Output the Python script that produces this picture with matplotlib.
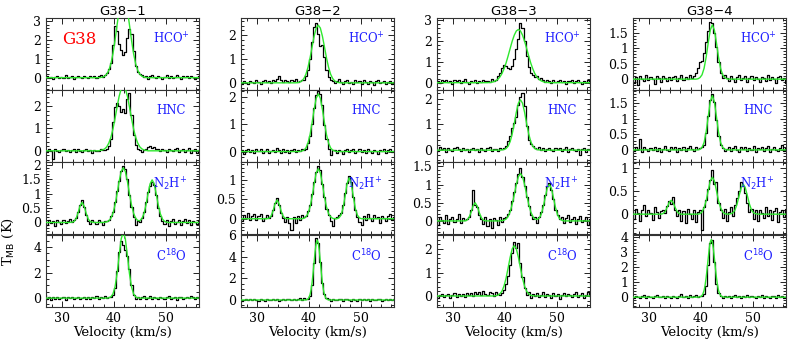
import numpy as np
import matplotlib
matplotlib.use("Agg")
import matplotlib.pyplot as plt
from matplotlib.ticker import MultipleLocator, FuncFormatter

# ---------------- data ----------------
velocity_start = 26.6   # km/s, first channel
velocity_step = 0.4     # km/s, channel width
n_channels = 76

sources = ["G38\u22121", "G38\u22122", "G38\u22123", "G38\u22124"]
line_names = ["HCO$^{+}$", "HNC", "N$_{2}$H$^{+}$", "C$^{18}$O"]

# observed spectra (T_MB, K), one value per channel
g38_1_hcop = [-0.05, 0.08, -0.02, 0.04, -0.08, 0.03, 0.10, -0.04, 0.06, 0.00,
              0.12, -0.03, 0.05, 0.09, -0.06, 0.02, 0.11, 0.04, -0.02, 0.07,
              0.06, -0.02, 0.09, 0.03, 0.11, -0.01, 0.07, 0.13, 0.05, 0.15,
              0.25, 0.45, 0.80, 1.70, 2.75, 2.45, 1.80, 1.45, 1.20, 1.35,
              2.10, 2.55, 2.30, 1.40, 0.60, 0.30, 0.18,
              0.12, 0.04, 0.09, -0.05, 0.07, 0.14, 0.02, -0.03, 0.10, 0.06, -0.08, 0.05, 0.12, 0.00,
              0.08, -0.04, 0.06, 0.13, 0.03, -0.06, 0.09, 0.02, 0.11, -0.03, 0.07, 0.01, -0.07, 0.05, 0.10]
g38_1_hnc = [0.03, -0.05, 0.06, -0.02, -0.35, 0.08, 0.01, -0.06, 0.04, 0.07,
             -0.03, 0.05, -0.07, 0.02, 0.06, -0.04, 0.09, 0.00, -0.05, 0.03,
             0.07, -0.02, 0.04, -0.08, 0.05, 0.01, -0.03, 0.06, 0.02, 0.04, 0.08,
             0.20, 0.55, 1.30, 1.95, 2.15, 2.00, 1.75, 1.85, 1.70, 2.30, 2.60, 1.60, 0.70, 0.25, 0.10,
             0.05, -0.04, 0.03, 0.08, 0.15, 0.22, 0.12, 0.18, 0.06, 0.10, -0.03, 0.07, 0.02, -0.05, 0.09,
             0.04, -0.02, 0.06, 0.11, -0.06, 0.03, 0.08, -0.04, 0.05, 0.13, -0.08, 0.02, 0.07, -0.10, 0.04]
g38_1_n2hp = [0.02, -0.08, 0.10, -0.03, 0.05, -0.12, 0.07, 0.01, -0.06, 0.09,
              -0.02, 0.04, 0.12,
              0.00, 0.08, 0.15, 0.38, 0.62, 0.78, 0.55, 0.25, 0.05, -0.06, 0.08,
              0.03, -0.05, 0.10, 0.02, -0.09, 0.06, 0.04,
              0.10, 0.22, 0.35, 0.70, 1.10, 1.45, 1.80, 1.95, 1.85, 1.50, 0.95, 0.55, 0.20,
              -0.10, 0.05, 0.02, 0.15,
              0.35, 0.70, 1.05, 1.25, 1.42, 1.30, 0.95, 0.50, 0.22, 0.05, -0.04, 0.08,
              -0.12, 0.06, 0.11, -0.05, 0.03, 0.09, -0.08, 0.04, 0.13, -0.02, 0.07, -0.10, 0.05, 0.01, -0.06, 0.08]
g38_1_c18o = [0.25, -0.10, 0.05, -0.15, 0.08, -0.05, 0.12, -0.08, 0.02, 0.10,
              -0.12, 0.06, -0.03, 0.09, -0.07, 0.04, 0.11, -0.09, 0.03, 0.07,
              -0.04, 0.10, -0.11, 0.05, 0.01, 0.13, -0.06, 0.08, 0.00, 0.15, -0.03, 0.09, 0.05,
              0.25, 0.80, 2.10, 3.60, 4.45, 4.20, 3.75, 3.30, 2.30, 1.00, 0.25, -0.05,
              0.10, -0.08, 0.06, 0.14, -0.05, 0.03, 0.20, -0.10, 0.07, 0.01, -0.06, 0.12, 0.04, -0.09, 0.08,
              0.15, -0.04, 0.02, 0.10, -0.12, 0.06, 0.11, -0.07, 0.03, 0.09, -0.02, 0.13, 0.05, -0.08, 0.10, 0.04]

g38_2_hcop = [0.02, -0.05, 0.06, 0.01, -0.04, 0.08, 0.03, -0.02, 0.10, 0.05,
              -0.03, 0.07, 0.12, 0.04, 0.09, -0.01, 0.13, 0.06, 0.15, 0.30,
              0.10, 0.05, 0.14, 0.08, 0.02, 0.11, 0.06, 0.16, 0.04, 0.09, 0.12,
              0.10, 0.30, 0.55, 1.00, 1.70, 2.35, 2.50, 2.05, 1.55, 1.60, 1.10, 0.55, 0.25, 0.10,
              0.06, -0.02, 0.09, 0.15, 0.03, -0.06, 0.08, 0.12, 0.01, 0.05, -0.04, 0.10, 0.03, 0.07, -0.05,
              0.11, 0.02, -0.03, 0.08, 0.04, -0.07, 0.06, 0.10, -0.02, 0.05, 0.09, -0.04, 0.03, 0.07, -0.06, 0.02]
g38_2_hnc = [-0.03, 0.06, -0.08, 0.04, 0.10, -0.02, 0.05, -0.06, 0.08, 0.01,
             0.09, -0.04, 0.03, 0.11, -0.07, 0.02, 0.06, -0.03, 0.12, 0.05,
             -0.05, 0.08, 0.00, 0.07, -0.06, 0.04, 0.10, -0.02, 0.06, 0.03, 0.09, 0.05,
             0.10, 0.30, 0.55, 1.00, 1.60, 2.05, 2.20, 2.10, 1.70, 0.95, 0.45, 0.10, -0.12, 0.05,
             0.07, -0.04, 0.05, 0.02, -0.08, 0.06, 0.10, -0.03, 0.04, 0.08, -0.06, 0.03, 0.11, -0.02, 0.05,
             -0.07, 0.09, 0.01, -0.04, 0.07, 0.03, -0.09, 0.06, 0.02, 0.10, -0.05, 0.04, 0.08, -0.03, 0.01]
g38_2_n2hp = [0.05, -0.06, 0.10, 0.02, 0.15, -0.04, 0.08, 0.12, -0.02, 0.06,
              0.11, -0.05, 0.03, 0.09,
              0.02, 0.08, 0.22, 0.40, 0.52, 0.35, 0.15, 0.02, -0.08,
              0.05, -0.12, -0.30, 0.04, -0.10, 0.07, -0.03, 0.10,
              0.05, 0.08, 0.20, 0.35, 0.62, 0.95, 1.20, 1.35, 1.25, 0.90, 0.55, 0.25, 0.10, -0.05, -0.18,
              0.02, 0.05, 0.10, 0.15, 0.35, 0.65, 0.92, 1.08, 0.95, 0.55, 0.22, 0.05, -0.08,
              -0.15, 0.06, -0.04, 0.12, 0.03, -0.07, 0.09, 0.01, 0.05, -0.10, 0.08, 0.02, -0.05, 0.07, 0.11, -0.02, 0.04]
g38_2_c18o = [0.05, -0.08, 0.03, 0.10, -0.04, 0.06, -0.02, 0.08, 0.01, -0.06,
              0.07, 0.02, -0.05, 0.09, 0.04, -0.03, 0.11, 0.00, 0.06, -0.07,
              0.03, 0.08, -0.04, 0.05, 0.12, -0.02, 0.07, 0.01, 0.09, 0.15, 0.04, 0.18, 0.10,
              0.12, 0.35, 1.40, 3.40, 5.70, 5.30, 3.50, 1.60, 0.55, 0.15, 0.05,
              -0.06, 0.08, 0.03, -0.04, 0.10, 0.05, -0.08, 0.06, 0.12, 0.00, -0.05, 0.09, 0.04, -0.10, 0.07,
              0.02, 0.11, -0.03, 0.06, -0.07, 0.08, 0.03, -0.02, 0.10, 0.05, -0.06, 0.04, 0.09, -0.04, 0.07, 0.01, 0.06]

g38_3_hcop = [0.04, 0.10, -0.03, 0.12, 0.06, 0.15, 0.02, 0.09, -0.05, 0.11,
              0.07, 0.13, 0.00, 0.08, 0.16, 0.03, -0.04, 0.10, 0.05, 0.12,
              -0.02, 0.08, 0.04, 0.14, 0.06, 0.10, 0.02, 0.18, 0.09,
              0.15, 0.30, 0.45, 0.70, 0.85, 0.80, 0.72, 0.65, 0.80, 1.15,
              1.60, 2.10, 2.85, 2.60, 2.00, 1.30, 0.75, 0.45, 0.35, 0.25,
              0.30, 0.20, 0.22, 0.12,
              0.05, 0.15, 0.08, -0.02, 0.11, 0.04, 0.09, 0.13, 0.01, 0.07, -0.04, 0.10,
              0.06, 0.12, 0.00, 0.08, 0.14, 0.03, -0.06, 0.09, 0.05, 0.11, -0.02]
g38_3_hnc = [0.06, -0.04, 0.12, 0.03, 0.08, -0.06, 0.10, 0.02, -0.03, 0.07,
             0.11, 0.04, -0.05, 0.09, 0.01, 0.06, -0.08, 0.03, 0.10, 0.00,
             0.05, -0.06, 0.08, 0.02, -0.04, 0.07, 0.11, -0.02, 0.05, 0.03, -0.05, 0.09, 0.04, 0.08,
             0.15, 0.35, 0.55, 0.85, 1.05, 1.30, 1.75, 2.05, 2.20, 1.70, 0.95, 0.40, 0.25, 0.15,
             0.10, 0.05, 0.12, 0.02, 0.08, -0.03, 0.06, 0.10, 0.01, -0.05, 0.07, 0.03, 0.09, -0.02,
             0.05, 0.11, -0.06, 0.04, 0.08, 0.00, -0.04, 0.06, -0.20, 0.03, 0.09, -0.07, 0.05, 0.02]
g38_3_n2hp = [0.08, -0.10, 0.12, 0.02, -0.05, 0.15, -0.08, 0.06, 0.10, -0.03,
              0.05, 0.20, -0.06, 0.09, 0.03,
              0.05, 0.12, 0.30, 0.85, 0.45, 0.38, 0.15, 0.05, -0.08,
              0.10, -0.15, 0.06, -0.20, 0.08, 0.02, -0.12, 0.11, -0.04, 0.07,
              0.10, 0.18, 0.30, 0.55, 0.80, 1.05, 1.30, 1.45, 1.20, 0.95, 0.65, 0.40, 0.15, 0.05, 0.10, -0.05, 0.12,
              0.25, 0.45, 0.70, 0.95, 1.05, 0.85, 0.60, 0.30, 0.15, 0.05, 0.12,
              -0.06, 0.09, 0.15, -0.02, 0.04, 0.11, -0.08, 0.06, 0.13, -0.04, 0.02, 0.10, -0.10, 0.05]
g38_3_c18o = [0.02, -0.08, 0.06, 0.10, -0.05, 0.03, 0.08, -0.10, 0.05, 0.12,
              -0.03, 0.07, 0.01, 0.09, -0.06, 0.11, 0.04, 0.14, 0.02, 0.18,
              0.08, 0.15, 0.03, 0.20, 0.10, 0.06, 0.17, 0.12, -0.02, 0.15, 0.08, 0.05, 0.12,
              0.25, 0.50, 0.85, 1.30, 1.85, 2.30, 2.05, 2.25, 1.40, 0.80, 0.35, 0.05, 0.15,
              -0.10, 0.08, 0.02, 0.12, -0.05, 0.06, 0.15, -0.03, 0.09, 0.04, -0.08, 0.11, 0.01, 0.07, -0.12,
              0.05, 0.13, -0.02, 0.08, 0.03, -0.06, 0.10, 0.16, -0.04, 0.06, 0.12, -0.09, 0.04, 0.18, 0.02]

g38_4_hcop = [0.05, -0.12, 0.08, -0.20, 0.10, 0.02, -0.06, 0.12, -0.03, 0.07,
              0.01, -0.15, 0.09, 0.04, -0.08, 0.11, 0.03, -0.05, 0.08, -0.02,
              0.06, 0.10, -0.07, 0.04, 0.12, -0.03, 0.08, 0.00, 0.14, 0.05, 0.10,
              0.20, 0.35, 0.55, 0.60, 0.85, 1.20, 1.55, 1.85, 1.80, 1.50, 1.05, 0.55, 0.20, 0.05, 0.12,
              0.03, -0.06, 0.09, 0.02, -0.10, 0.07, 0.13, -0.04, 0.05, 0.10, -0.08, 0.04, 0.11, -0.02, 0.06,
              0.01, -0.09, 0.08, 0.03, -0.05, 0.12, -0.03, 0.07, 0.02, -0.11, 0.06, 0.09, -0.04, 0.03, -0.14]
g38_4_hnc = [0.05, -0.04, 0.08, 0.02, 0.35, -0.06, 0.10, 0.03, -0.05, 0.07,
             0.01, 0.09, -0.03, 0.06, -0.08, 0.04, 0.11, 0.00, -0.04, 0.08,
             0.03, 0.10, -0.06, 0.05, 0.01, 0.09, -0.02, 0.07, 0.12, 0.04, -0.03, 0.08, 0.02, 0.06, 0.10,
             0.15, 0.55, 1.10, 1.60, 1.80, 1.55, 0.95, 0.45, 0.15, 0.05,
             -0.05, 0.04, 0.09, -0.02, 0.06, 0.11, 0.01, -0.07, 0.08, 0.03, 0.10, -0.04, 0.05, 0.00, 0.12,
             -0.06, 0.07, 0.02, 0.09, -0.03, 0.05, 0.13, -0.08, 0.04, 0.10, 0.01, -0.05, 0.07, 0.15, -0.02, 0.06]
g38_4_n2hp = [0.05, -0.10, 0.12, 0.03, -0.15, 0.08, 0.20, -0.05, 0.10, 0.02,
              -0.12, 0.15, 0.04, -0.08, 0.06,
              0.10, 0.02, 0.18, 0.28, 0.22, 0.38, 0.10, -0.05, 0.08,
              -0.15, 0.06, -0.20, 0.12, 0.00, -0.10, 0.09, -0.18, 0.04, 0.10, -0.35,
              0.15, 0.30, 0.55, 0.75, 0.95, 0.65, 0.70, 0.25, 0.10, -0.08, 0.12, -0.15,
              0.05, 0.15, -0.05, 0.20, 0.35, 0.50, 0.70, 0.60, 0.45, 0.25, 0.05, 0.12, -0.10, 0.08,
              -0.14, 0.10, 0.03, -0.08, 0.15, -0.05, 0.09, -0.12, 0.06, 0.13, -0.18, 0.04, 0.10, -0.06, 0.12]
g38_4_c18o = [0.03, -0.06, 0.10, 0.02, -0.04, 0.08, 0.15, -0.03, 0.05, 0.01,
              -0.08, 0.06, 0.12, -0.02, 0.04, 0.09, -0.05, 0.07, 0.02, -0.06,
              0.10, 0.04, -0.03, 0.08, 0.18, 0.01, 0.06, -0.04, 0.11, 0.03, 0.07, 0.14, -0.02, 0.09, 0.05,
              0.20, 0.75, 2.10, 3.60, 3.75, 2.30, 0.90, 0.30, 0.08,
              -0.05, 0.06, 0.02, 0.10, -0.03, 0.07, 0.12, 0.00, 0.05, -0.07, 0.09, 0.03, 0.14, -0.02, 0.06,
              0.01, -0.06, 0.08, 0.04, 0.11, -0.04, 0.05, 0.02, -0.08, 0.09, 0.06, -0.03, 0.12, 0.01, 0.07, -0.05, 0.04]

# Gaussian-fit curves (T_MB, K), tabulated from fit_start in steps of fit_step; zero elsewhere
g38_1_hcop_fit = [0.01, 0.03, 0.08, 0.19, 0.39, 0.74, 1.27, 1.98, 2.79, 3.57, 4.14, 4.35,
                  4.14, 3.57, 2.79, 1.98, 1.27, 0.74, 0.39, 0.19, 0.08, 0.03, 0.01]
g38_1_hnc_fit = [0.02, 0.04, 0.09, 0.18, 0.35, 0.61, 0.98, 1.45, 1.96, 2.44, 2.78, 2.90,
                 2.78, 2.44, 1.96, 1.45, 0.98, 0.61, 0.35, 0.18, 0.09, 0.04, 0.02]
g38_1_n2hp_fit = [0.01, 0.03, 0.12, 0.32, 0.57, 0.70, 0.57, 0.32, 0.12, 0.03, 0.01,
                  0.0, 0.0, 0.0, 0.0, 0.0, 0.01, 0.02, 0.06, 0.15, 0.32, 0.61, 1.00, 1.43, 1.77, 1.90,
                  1.77, 1.43, 1.00, 0.61, 0.32, 0.15, 0.07, 0.06, 0.13, 0.30, 0.60, 0.99, 1.34, 1.48,
                  1.34, 0.99, 0.60, 0.30, 0.12, 0.04, 0.01]
g38_1_c18o_fit = [0.02, 0.10, 0.33, 0.88, 1.92, 3.34, 4.65, 5.20, 4.65, 3.34, 1.92, 0.88, 0.33, 0.10, 0.02]

g38_2_hcop_fit = [0.01, 0.03, 0.08, 0.18, 0.36, 0.65, 1.04, 1.51, 1.96, 2.30, 2.42,
                  2.30, 1.96, 1.51, 1.04, 0.65, 0.36, 0.18, 0.08, 0.03, 0.01]
g38_2_hnc_fit = [0.02, 0.05, 0.13, 0.31, 0.61, 1.05, 1.54, 1.94, 2.10, 1.94, 1.54, 1.05, 0.61, 0.31, 0.13, 0.05, 0.02]
g38_2_n2hp_fit = [0.01, 0.06, 0.19, 0.38, 0.48, 0.38, 0.19, 0.06, 0.01,
                  0.0, 0.0, 0.0, 0.0, 0.0, 0.0, 0.0, 0.0,
                  0.01, 0.05, 0.13, 0.30, 0.56, 0.89, 1.17, 1.28, 1.17, 0.89, 0.56, 0.30, 0.13, 0.05, 0.01,
                  0.0, 0.0, 0.02, 0.09, 0.26, 0.57, 0.90, 1.05, 0.90, 0.57, 0.26, 0.09, 0.02]
g38_2_c18o_fit = [0.04, 0.10, 0.24, 0.50, 0.94, 1.62, 2.52, 3.56, 4.56, 5.28, 5.55,
                  5.28, 4.56, 3.56, 2.52, 1.62, 0.94, 0.50, 0.24, 0.10, 0.04]

g38_3_hcop_fit = [0.01, 0.02, 0.05, 0.09, 0.16, 0.27, 0.43, 0.66, 0.94, 1.28, 1.64, 1.99, 2.28, 2.48, 2.55,
                  2.48, 2.28, 1.99, 1.64, 1.28, 0.94, 0.66, 0.43, 0.27, 0.16, 0.09, 0.05, 0.02, 0.01]
g38_3_hnc_fit = [0.01, 0.02, 0.06, 0.15, 0.33, 0.63, 1.03, 1.47, 1.82, 1.95,
                 1.82, 1.47, 1.03, 0.63, 0.33, 0.15, 0.06, 0.02, 0.01]
g38_3_n2hp_fit = [0.02, 0.09, 0.23, 0.41, 0.50, 0.41, 0.23, 0.09, 0.02,
                  0.0, 0.0, 0.0, 0.0, 0.0, 0.0, 0.0, 0.0,
                  0.01, 0.02, 0.05, 0.12, 0.25, 0.46, 0.72, 1.00, 1.22, 1.30,
                  1.22, 1.00, 0.72, 0.46, 0.25, 0.12, 0.05, 0.04, 0.07, 0.17,
                  0.37, 0.64, 0.90, 1.00, 0.90, 0.64, 0.37, 0.17, 0.06, 0.02]
g38_3_c18o_fit = [0.01, 0.03, 0.09, 0.20, 0.42, 0.75, 1.19, 1.65, 2.01, 2.15,
                  2.01, 1.65, 1.19, 0.75, 0.42, 0.20, 0.09, 0.03, 0.01]

g38_4_hcop_fit = [0.01, 0.05, 0.14, 0.35, 0.71, 1.17, 1.58, 1.75, 1.58, 1.17, 0.71, 0.35, 0.14, 0.05, 0.01]
g38_4_hnc_fit = [0.02, 0.08, 0.24, 0.58, 1.07, 1.55, 1.75, 1.55, 1.07, 0.58, 0.24, 0.08, 0.02]
g38_4_n2hp_fit = [0.01, 0.05, 0.14, 0.25, 0.30, 0.25, 0.14, 0.05, 0.01,
                  0.0, 0.0, 0.0, 0.0, 0.0, 0.0, 0.0, 0.0, 0.0,
                  0.01, 0.05, 0.14, 0.29, 0.51, 0.72, 0.80, 0.72, 0.51, 0.29, 0.14, 0.05, 0.01,
                  0.0, 0.0,
                  0.01, 0.03, 0.09, 0.22, 0.40, 0.57, 0.65, 0.57, 0.40, 0.22, 0.09, 0.03, 0.01]
g38_4_c18o_fit = [0.02, 0.05, 0.11, 0.24, 0.45, 0.80, 1.29, 1.90, 2.57, 3.20, 3.64, 3.80,
                  3.64, 3.20, 2.57, 1.90, 1.29, 0.80, 0.45, 0.24, 0.11, 0.05, 0.02]

fit_start = [[37.4, 37.4, 31.8, 39.0],
             [37.8, 38.6, 32.2, 39.6],
             [37.0, 39.4, 32.6, 38.2],
             [39.4, 39.8, 32.6, 39.8]]
fit_step = [[0.4, 0.4, 0.4, 0.4],
            [0.4, 0.4, 0.4, 0.2],
            [0.4, 0.4, 0.4, 0.4],
            [0.4, 0.4, 0.4, 0.2]]

spectra = [[g38_1_hcop, g38_1_hnc, g38_1_n2hp, g38_1_c18o],
           [g38_2_hcop, g38_2_hnc, g38_2_n2hp, g38_2_c18o],
           [g38_3_hcop, g38_3_hnc, g38_3_n2hp, g38_3_c18o],
           [g38_4_hcop, g38_4_hnc, g38_4_n2hp, g38_4_c18o]]
fits = [[g38_1_hcop_fit, g38_1_hnc_fit, g38_1_n2hp_fit, g38_1_c18o_fit],
        [g38_2_hcop_fit, g38_2_hnc_fit, g38_2_n2hp_fit, g38_2_c18o_fit],
        [g38_3_hcop_fit, g38_3_hnc_fit, g38_3_n2hp_fit, g38_3_c18o_fit],
        [g38_4_hcop_fit, g38_4_hnc_fit, g38_4_n2hp_fit, g38_4_c18o_fit]]

# ---------------- layout ----------------
W, H = 789, 342
col_left = [46, 241, 437, 633]
col_width = 153
row_top = [18, 90, 162, 235]
row_height = 72
xlim = (26.8, 56.5)

ylims = [[(-0.65, 3.15), (-0.5, 2.72), (-0.4, 2.1), (-0.7, 4.95)],
         [(-0.3, 2.72), (-0.38, 2.24), (-0.39, 1.45), (-0.65, 6.02)],
         [(-0.35, 3.1), (-0.46, 2.33), (-0.36, 1.62), (-0.47, 2.6)],
         [(-0.35, 1.97), (-0.39, 1.93), (-0.43, 1.13), (-0.65, 4.1)]]
yticks = [[(1, 0.2), (1, 0.2), (0.5, 0.1), (2, 0.5)],
          [(1, 0.2), (1, 0.2), (0.5, 0.1), (2, 0.5)],
          [(1, 0.2), (1, 0.2), (0.5, 0.1), (1, 0.2)],
          [(0.5, 0.1), (0.5, 0.1), (0.5, 0.1), (1, 0.2)]]

GREEN = "#2ee82e"
BLUE = "#2323ff"
SERIF = "DejaVu Serif"

velocity = velocity_start + velocity_step * np.arange(n_channels)

fig = plt.figure(figsize=(W / 100, H / 100), dpi=100)
fmt = FuncFormatter(lambda x, p: f"{x:g}")

for c in range(4):
    for r in range(4):
        left = col_left[c] / W
        bottom = 1 - (row_top[r] + row_height) / H
        ax = fig.add_axes([left, bottom, col_width / W, row_height / H])
        spec = np.asarray(spectra[c][r])
        ax.plot(velocity, spec, drawstyle="steps-mid", color="black", lw=0.9, zorder=2)

        seg = np.asarray(fits[c][r])
        seg_v = fit_start[c][r] + fit_step[c][r] * np.arange(len(seg))
        lo = velocity < seg_v[0] - 1e-6
        hi = velocity > seg_v[-1] + 1e-6
        fv = np.concatenate([velocity[lo], seg_v, velocity[hi]])
        fy = np.concatenate([np.zeros(lo.sum()), seg, np.zeros(hi.sum())])
        ax.plot(fv, fy, color=GREEN, lw=1.0, zorder=3)

        ax.set_xlim(*xlim)
        ax.set_ylim(*ylims[c][r])
        ax.xaxis.set_major_locator(MultipleLocator(10))
        ax.xaxis.set_minor_locator(MultipleLocator(2))
        ax.yaxis.set_major_locator(MultipleLocator(yticks[c][r][0]))
        ax.yaxis.set_minor_locator(MultipleLocator(yticks[c][r][1]))
        ax.yaxis.set_major_formatter(fmt)
        ax.tick_params(which="both", direction="in", top=True, right=True,
                       labelsize=9, width=0.7, colors="#222222", labelcolor="black")
        ax.tick_params(which="major", length=4)
        ax.tick_params(which="minor", length=2)
        for lab in ax.get_yticklabels() + ax.get_xticklabels():
            lab.set_family(SERIF)
        for s in ax.spines.values():
            s.set_linewidth(0.8)
            s.set_color("#333333")
        if r < 3:
            ax.tick_params(labelbottom=False)
        else:
            ax.set_xlabel("Velocity (km/s)", family=SERIF, fontsize=9.5, labelpad=1)
        x_lab, y_lab = (0.81, 0.69) if r == 2 else (0.82, 0.71)
        ax.text(x_lab, y_lab, line_names[r], transform=ax.transAxes, color=BLUE,
                family=SERIF, fontsize=8.5, ha="center", va="center")
        if r == 0:
            ax.set_title(sources[c], fontsize=9.5, pad=1.5)
            if c == 0:
                ax.text(0.22, 0.70, "G38", transform=ax.transAxes, color="red",
                        family=SERIF, fontsize=12, ha="center", va="center")

fig.text(8 / W, 1 - 241 / H, "T$_{\\rm MB}$ (K)", rotation=90, family=SERIF,
         fontsize=9.5, ha="center", va="center")

fig.savefig("out.png", dpi=100)
